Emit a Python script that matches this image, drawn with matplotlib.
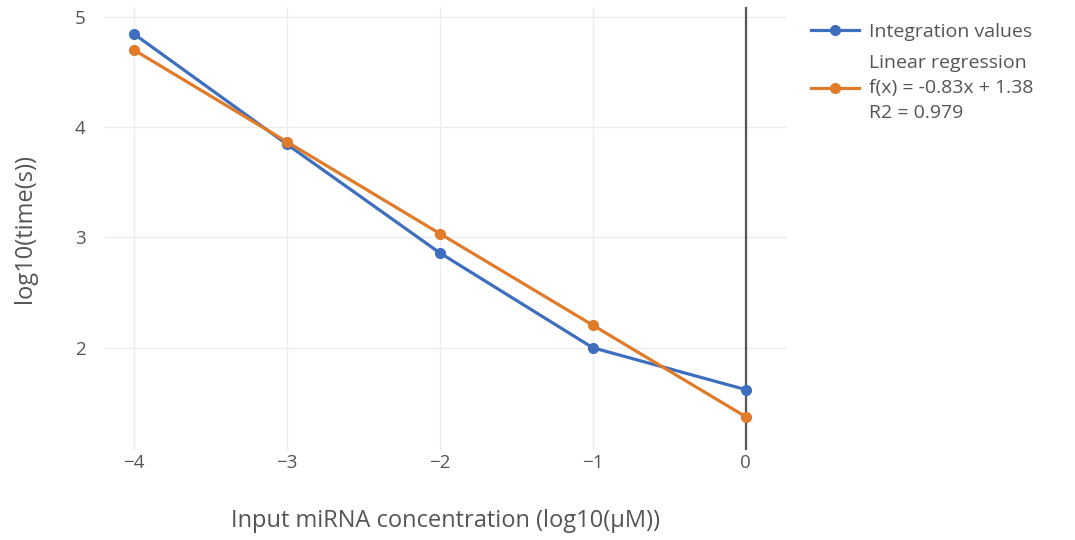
import matplotlib.pyplot as plt
import numpy as np

# values
log_conc = [-4, -3, -2, -1, 0]
integration_values = [4.845, 3.845, 2.86, 2.0, 1.62]
slope = -0.83
intercept = 1.38
r2 = 0.979
regression_values = [4.70, 3.867, 3.035, 2.205, 1.375]

x_ticks = [-4, -3, -2, -1, 0]
y_ticks = [2, 3, 4, 5]

blue = "#3e6fbe"
orange = "#e07b2a"
text_color = "#555555"

plt.rcParams['font.family'] = ['Open Sans', 'DejaVu Sans']

fig = plt.figure(figsize=(10.75, 5.4), dpi=100)
ax = fig.add_axes([0.0977, 0.167, 0.634, 0.82])

ax.axvline(0, color="#555555", lw=1.6, zorder=2)
ax.plot(log_conc, integration_values, color=blue, lw=2.3, marker="o", ms=7,
        label="Integration values", zorder=3)
ax.plot(log_conc, regression_values, color=orange, lw=2.3, marker="o", ms=7,
        label=f"Linear regression\nf(x) = {slope}x + {intercept}\nR2 = {r2}", zorder=3)

ax.set_xlim(-4.19, 0.268)
ax.set_ylim(1.074, 5.09)
ax.set_xticks(x_ticks)
ax.set_yticks(y_ticks)
ax.set_xticklabels(["\u22124", "\u22123", "\u22122", "\u22121", "0"])
ax.grid(True, color="#ececec", lw=1)
ax.set_axisbelow(True)
for s in ax.spines.values():
    s.set_visible(False)
ax.tick_params(length=0, labelsize=13.5, labelcolor=text_color, pad=3)
ax.tick_params(axis="y", pad=14)

ax.set_xlabel("Input miRNA concentration (log10(\u03bcM))", fontsize=17,
              color=text_color, labelpad=27)
ax.set_ylabel("log10(time(s))", fontsize=17, color=text_color, labelpad=27)

leg = fig.legend(loc="upper left", bbox_to_anchor=(0.738, 0.99), frameon=False,
                 fontsize=14, labelcolor=text_color, handlelength=2.5,
                 handletextpad=0.5, labelspacing=0.65)
for t in leg.get_texts():
    t.set_linespacing(1.5)

fig.savefig("out.png", dpi=100)
